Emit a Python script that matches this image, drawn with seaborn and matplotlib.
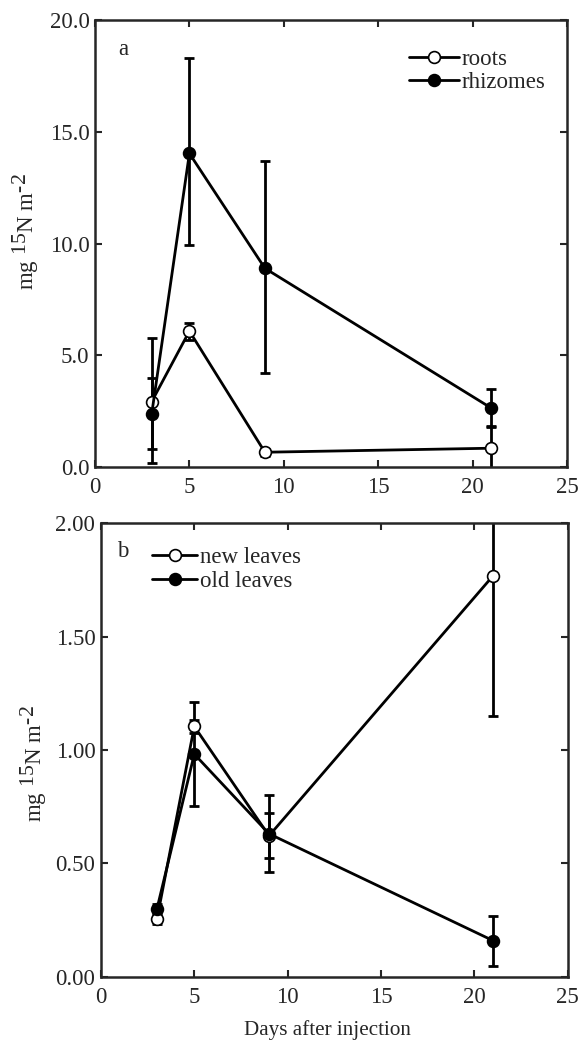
import numpy as np
import pandas as pd
import matplotlib
matplotlib.use("Agg")
import matplotlib.pyplot as plt
import seaborn as sns

# datos
dias = [3, 5, 9, 21]

raices = [2.92, 6.08, 0.66, 0.84]
raices_err_inf = [2.13, 0.38, 0.15, 1.0]
raices_err_sup = [1.08, 0.38, 0.15, 1.0]

rizomas = [2.36, 14.03, 8.89, 2.63]
rizomas_err_inf = [2.17, 4.1, 4.7, 0.82]
rizomas_err_sup = [3.42, 4.26, 4.8, 0.85]

hojas_nuevas = [0.255, 1.104, 0.622, 1.768]
hojas_nuevas_err = [0.02, 0.03, 0.10, 0.62]

hojas_viejas = [0.30, 0.982, 0.631, 0.160]
hojas_viejas_err = [0.02, 0.23, 0.17, 0.11]

sns.set_style("ticks")
plt.rcParams['font.family'] = ['Liberation Serif', 'DejaVu Serif']
plt.rcParams['mathtext.fontset'] = 'custom'
plt.rcParams['mathtext.rm'] = 'Liberation Serif'
plt.rcParams['mathtext.it'] = 'Liberation Serif:italic'
# superindices casi del mismo tamaño, como en el original
try:
    import matplotlib._mathtext as _mt
    _mt.SHRINK_FACTOR = 0.95
except Exception:
    pass

fig = plt.figure(figsize=(5.8, 10.44), dpi=100)
ax1 = fig.add_axes([0.1638, 0.5527, 0.8138, 0.4281])
ax2 = fig.add_axes([0.174, 0.0642, 0.805, 0.4348])


def serie(eje, valores, err, relleno, nombre):
    df = pd.DataFrame({'dia': dias, 'valor': valores})
    sns.lineplot(data=df, x='dia', y='valor', ax=eje, color='black', lw=2.0,
                 marker='o', markersize=8.5, markerfacecolor=relleno,
                 markeredgecolor='black', markeredgewidth=1.2, label=nombre,
                 zorder=3)
    eje.errorbar(dias, valores, yerr=err, fmt='none', ecolor='black',
                 elinewidth=2.0, capsize=3.5, capthick=2.0, zorder=2)


serie(ax1, raices, [raices_err_inf, raices_err_sup], 'white', 'roots')
serie(ax1, rizomas, [rizomas_err_inf, rizomas_err_sup], 'black', 'rhizomes')
serie(ax2, hojas_nuevas, hojas_nuevas_err, 'white', 'new leaves')
serie(ax2, hojas_viejas, hojas_viejas_err, 'black', 'old leaves')

etiqueta_y = 'mg $^{\\mathrm{15}}$N m$^{\\mathrm{\u20102}}$'
for eje in [ax1, ax2]:
    eje.set_xlim(0, 25)
    eje.set_xticks([0, 5, 10, 15, 20, 25])
    eje.tick_params(direction='in', top=True, right=True, length=5, width=1.5,
                    labelsize=16.5, pad=7)
    for lado in eje.spines.values():
        lado.set_linewidth(1.8)
    eje.set_ylabel(etiqueta_y, fontsize=16.5)
    eje.set_xlabel('')

ax1.yaxis.set_label_coords(-0.115, 0.526)
ax2.yaxis.set_label_coords(-0.112, 0.47)

ax1.set_ylim(0, 20)
ax1.set_yticks([0, 5, 10, 15, 20])
ax1.set_yticklabels(['0.0', '5.0', '10.0', '15.0', '20.0'])
ax1.tick_params(axis='y', pad=4)
ax2.set_ylim(0, 2)
ax2.set_yticks([0, 0.5, 1.0, 1.5, 2.0])
ax2.set_yticklabels(['0.00', '0.50', '1.00', '1.50', '2.00'])
ax2.tick_params(axis='y', pad=4)
ax2.set_xlabel('Days after injection', fontsize=15.2)
ax2.xaxis.set_label_coords(0.485, -0.095)

ax1.text(0.05, 0.958, 'a', transform=ax1.transAxes, fontsize=16.5, va='top')
ax2.text(0.035, 0.96, 'b', transform=ax2.transAxes, fontsize=16.5, va='top')

ax1.legend(loc='upper right', frameon=False, fontsize=16.5, handlelength=2.2,
           handletextpad=0.1, labelspacing=0.08, borderaxespad=0.0,
           bbox_to_anchor=(0.973, 0.955))
ax2.legend(loc='upper left', frameon=False, fontsize=16.5, handlelength=2.0,
           handletextpad=0.1, labelspacing=0.15, borderaxespad=0.0,
           bbox_to_anchor=(0.089, 0.968))

fig.savefig('out.png', dpi=100)
